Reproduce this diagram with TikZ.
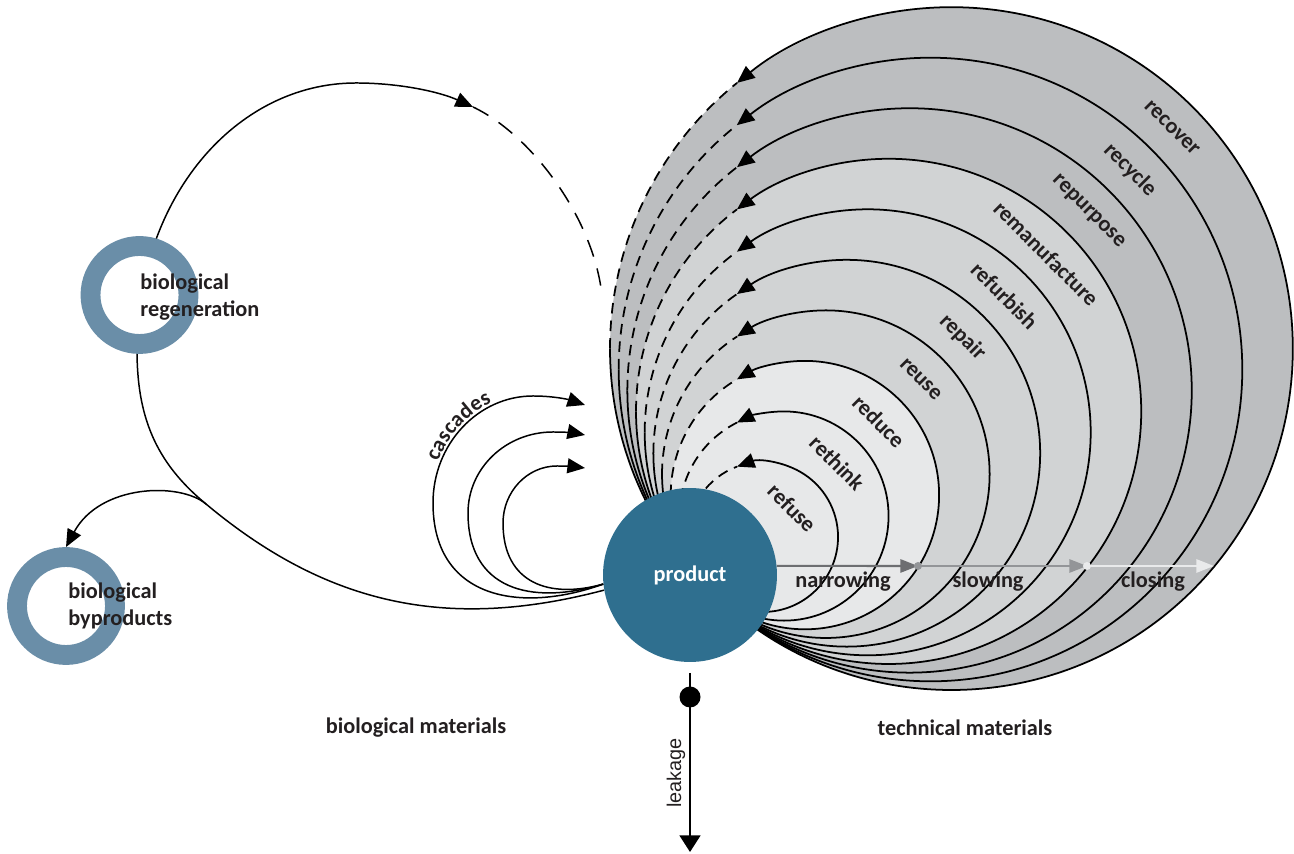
\documentclass[tikz,border=0pt]{standalone}
\usepackage{fontspec}
\setmainfont{Carlito}
\newfontfamily\arialfont{Liberation Sans}
\usetikzlibrary{arrows.meta,decorations.text}
\definecolor{productblue}{HTML}{2F6F8F}
\definecolor{ringblue}{HTML}{6A8EA8}
\definecolor{lightband}{HTML}{E7E8E9}
\definecolor{midband}{HTML}{D1D3D4}
\definecolor{darkband}{HTML}{BCBEC0}
\definecolor{inktext}{HTML}{231F20}
\definecolor{narrowgray}{HTML}{6D6E71}
\definecolor{slowgray}{HTML}{939598}
\definecolor{closegray}{HTML}{E9EAEB}

\begin{document}
\begin{tikzpicture}[x=0.02cm,y=0.02cm,>={Triangle[length=10pt,width=8.5pt]},
  bandline/.style={line width=1pt,->},
  bandback/.style={line width=1pt,dash pattern=on 6pt off 4pt},
  bandtext/.style={rotate=-45,inner sep=0pt,text=inktext,font=\fontsize{12.7}{15}\selectfont\bfseries},
  flowtext/.style={text=inktext,font=\fontsize{12.7}{15}\selectfont\bfseries},
  flowline/.style={line width=0.85pt},
  strategy/.style={line width=1.2pt,-{Triangle[length=10pt,width=7.5pt]}},
  bioring/.style={circle,draw=ringblue,fill=white,line width=11.3pt,minimum size=1.96cm,inner sep=0pt},
  biotext/.style={anchor=west,align=left,inner sep=0pt,text=inktext,font=\fontsize{12.7}{15.3}\selectfont\bfseries}]
  \useasboundingbox (0,0) rectangle (1294,854);
  \coordinate (T) at (710,264);

  % nested R-circles
  \fill[darkband] ([shift={(45:341.4)}]T) circle[radius=341.4];
  \fill[midband] ([shift={(45:252.6)}]T) circle[radius=252.6];
  \fill[lightband] ([shift={(45:134.2)}]T) circle[radius=134.2];
  \draw[bandline] ([shift={(45:75)}]T) ++(-75,0) arc[start angle=180,end angle=470.3,radius=75];
  \draw[bandback] ([shift={(45:75)}]T) ++(-75,0) arc[start angle=180,end angle=110.3,radius=75];
  \draw[bandline] ([shift={(45:104.6)}]T) ++(-104.6,0) arc[start angle=180,end angle=476.7,radius=104.6];
  \draw[bandback] ([shift={(45:104.6)}]T) ++(-104.6,0) arc[start angle=180,end angle=116.7,radius=104.6];
  \draw[bandline] ([shift={(45:134.2)}]T) ++(-134.2,0) arc[start angle=180,end angle=480.4,radius=134.2];
  \draw[bandback] ([shift={(45:134.2)}]T) ++(-134.2,0) arc[start angle=180,end angle=120.4,radius=134.2];
  \draw[bandline] ([shift={(45:163.8)}]T) ++(-163.8,0) arc[start angle=180,end angle=482.8,radius=163.8];
  \draw[bandback] ([shift={(45:163.8)}]T) ++(-163.8,0) arc[start angle=180,end angle=122.8,radius=163.8];
  \draw[bandline] ([shift={(45:193.4)}]T) ++(-193.4,0) arc[start angle=180,end angle=484.6,radius=193.4];
  \draw[bandback] ([shift={(45:193.4)}]T) ++(-193.4,0) arc[start angle=180,end angle=124.6,radius=193.4];
  \draw[bandline] ([shift={(45:223)}]T) ++(-223,0) arc[start angle=180,end angle=485.9,radius=223];
  \draw[bandback] ([shift={(45:223)}]T) ++(-223,0) arc[start angle=180,end angle=125.9,radius=223];
  \draw[bandline] ([shift={(45:252.6)}]T) ++(-252.6,0) arc[start angle=180,end angle=486.9,radius=252.6];
  \draw[bandback] ([shift={(45:252.6)}]T) ++(-252.6,0) arc[start angle=180,end angle=126.9,radius=252.6];
  \draw[bandline] ([shift={(45:282.2)}]T) ++(-282.2,0) arc[start angle=180,end angle=487.7,radius=282.2];
  \draw[bandback] ([shift={(45:282.2)}]T) ++(-282.2,0) arc[start angle=180,end angle=127.7,radius=282.2];
  \draw[bandline] ([shift={(45:311.8)}]T) ++(-311.8,0) arc[start angle=180,end angle=488.4,radius=311.8];
  \draw[bandback] ([shift={(45:311.8)}]T) ++(-311.8,0) arc[start angle=180,end angle=128.4,radius=311.8];
  \draw[bandline] ([shift={(45:341.4)}]T) ++(-341.4,0) arc[start angle=180,end angle=488.9,radius=341.4];
  \draw[bandback] ([shift={(45:341.4)}]T) ++(-341.4,0) arc[start angle=180,end angle=128.9,radius=341.4];

  \node[circle,fill=productblue,minimum size=3.48cm,inner sep=0pt,text=white,
    font=\fontsize{12.7}{15}\selectfont\bfseries] (product) at (690,279) {product};

  % narrowing, slowing, closing
  \coordinate (narrowend) at (918,288);
  \coordinate (slowend) at (1087,288);
  \coordinate (closeend) at (1214,288);
  \draw[strategy,narrowgray] (product.6) -- (narrowend);
  \draw[strategy,slowgray] (narrowend) -- (slowend);
  \fill[slowgray] (narrowend) circle[radius=4];
  \draw[strategy,closegray] (slowend) -- (closeend);
  \fill[closegray] (slowend) circle[radius=4];
  \node[flowtext] (narrowing) at (843,272) {narrowing};
  \node[flowtext] (slowing) at (988,272) {slowing};
  \node[flowtext] (closing) at (1153,272) {closing};

  \node[bandtext] (refuse) at ([shift={(45:116)}]T) {refuse};
  \node[bandtext] (rethink) at ([shift={(45:179.6)}]T) {rethink};
  \node[bandtext] (reduce) at ([shift={(45:238.8)}]T) {reduce};
  \node[bandtext] (reuse) at ([shift={(45:298)}]T) {reuse};
  \node[bandtext] (repair) at ([shift={(45:357.2)}]T) {repair};
  \node[bandtext] (refurbish) at ([shift={(45:416.4)}]T) {refurbish};
  \node[bandtext] (remanufacture) at ([shift={(45:475.6)}]T) {remanufacture};
  \node[bandtext] (repurpose) at ([shift={(45:534.8)}]T) {repurpose};
  \node[bandtext] (recycle) at ([shift={(45:594)}]T) {recycle};
  \node[bandtext] (recover) at ([shift={(45:653.2)}]T) {recover};

  % leakage
  \coordinate (leakstart) at (690,181);
  \coordinate (leakend) at (690,2);
  \draw[flowline,-{Triangle[length=9.5pt,width=12pt]}] (leakstart) -- (leakend);
  \node[circle,fill=black,inner sep=0pt,minimum size=0.42cm] (leakdot) at (690,157) {};
  \node[rotate=90,text=inktext,font=\arialfont\fontsize{11.3}{13}\selectfont] (leakage) at (676,81) {leakage};

  % biological loop
  \coordinate (split) at (206,350);
  \coordinate (west) at (137,504);
  \coordinate (crest) at (356,771);
  \coordinate (loophead) at (473,747);
  \coordinate (loopend) at (601,566);
  \draw[flowline,->] (product.190) .. controls (449,223) and (328,248) .. (split)
    .. controls (155,392) and (137,438) .. (west)
    .. controls (137,655) and (235,771) .. (crest)
    .. controls (400,771) and (440,762) .. (loophead);
  \draw[flowline,dash pattern=on 10pt off 7pt] (loophead) .. controls (530,720) and (590,640) .. (loopend);

  % cascades
  \coordinate (cascadeA) at (585,449);
  \coordinate (cascadeB) at (585,419);
  \coordinate (cascadeC) at (585,386);
  \draw[flowline,->] (product.186) .. controls (520,240) and (433,255) .. (433,351)
    .. controls (433,410) and (478,458) .. (533,458) .. controls (555,458) and (570,454) .. (cascadeA);
  \draw[flowline,->] (product.186) .. controls (530,248) and (468,265) .. (468,341)
    .. controls (468,386) and (506,422) .. (553,422) .. controls (565,422) and (575,421) .. (cascadeB);
  \draw[flowline,->] (product.186) .. controls (550,255) and (503,270) .. (503,331)
    .. controls (503,362) and (527,388) .. (557,388) .. controls (568,388) and (577,387) .. (cascadeC);
  \path[decorate,decoration={text along path,text align=center,raise=1.5pt,
    text={|\fontsize{12.5}{15}\selectfont\bfseries\color{inktext}|cascades}}]
    (433,351) .. controls (433,410) and (478,458) .. (533,458);

  % biological rings
  \node[bioring] (regen) at (139.5,559) {};
  \node[bioring] (bypro) at (66,248) {};
  \draw[flowline,->] (split) .. controls (180,372) and (100,370) .. (bypro.north);
  \node[biotext] (regentext) at (140,557) {biological\\regeneration};
  \node[biotext] (byprotext) at (68,248) {biological\\byproducts};

  \node[flowtext] (biomat) at (416,126) {biological materials};
  \node[flowtext] (techmat) at (965,126) {technical materials};
\end{tikzpicture}
\end{document}
